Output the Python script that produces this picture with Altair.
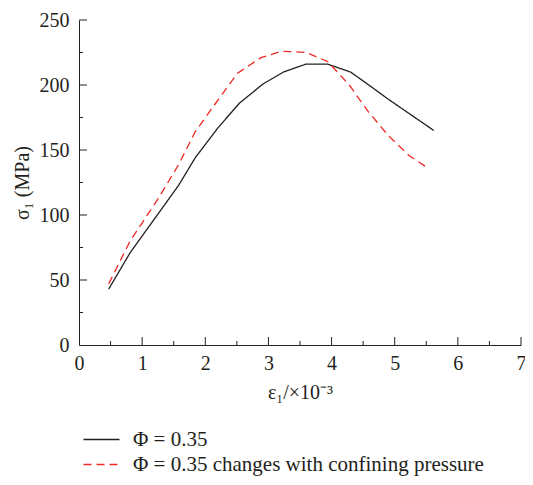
import altair as alt
import pandas as pd

# ---- data ----
series_names = ["Φ = 0.35", "Φ = 0.35 changes with confining pressure"]

x_black = [0.47, 0.81, 1.58, 1.84, 2.20, 2.54, 2.92, 3.24, 3.59, 3.94, 4.30, 4.59, 4.90, 5.62]
y_black = [43, 71, 123, 144, 167, 186, 201, 210, 216, 216, 210, 200, 189, 165]

x_red = [0.47, 0.81, 1.26, 1.58, 1.84, 2.15, 2.51, 2.88, 3.21, 3.60, 3.94, 4.28, 4.59, 4.90, 5.22, 5.53]
y_red = [47, 80, 113, 139, 164, 185, 209, 221, 226, 225, 218, 200, 179, 161, 146, 136]

x_major = [0, 1, 2, 3, 4, 5, 6, 7]
x_minor = [0.5, 1.5, 2.5, 3.5, 4.5, 5.5, 6.5]
y_major = [0, 50, 100, 150, 200, 250]
y_minor = [25, 75, 125, 175, 225]

FONT = "Liberation Serif"
INK = "#231f20"
RED = "#ee2a24"
FS = 20
W, H = 442, 325

df = pd.concat([
    pd.DataFrame({"x": x_black, "y": y_black, "series": series_names[0], "order": range(len(x_black))}),
    pd.DataFrame({"x": x_red, "y": y_red, "series": series_names[1], "order": range(len(x_red))}),
])

xs = alt.Scale(domain=[0, 7], nice=False)
ys = alt.Scale(domain=[0, 250], nice=False)
xaxis = alt.Axis(values=x_major, title="ε₁/×10⁻³", titlePadding=9, labelPadding=8, labelFlush=False)
yaxis = alt.Axis(values=y_major, title="σ₁ (MPa)", titlePadding=7, labelPadding=10, labelFlush=False)

lines = alt.Chart(df).mark_line(strokeWidth=1.3).encode(
    x=alt.X("x:Q", scale=xs, axis=xaxis),
    y=alt.Y("y:Q", scale=ys, axis=yaxis),
    color=alt.Color("series:N", scale=alt.Scale(domain=series_names, range=[INK, RED]),
                    legend=alt.Legend(title=None)),
    strokeDash=alt.StrokeDash("series:N", scale=alt.Scale(domain=series_names, range=[[1, 0], [8, 5]]),
                              legend=alt.Legend(title=None)),
    order="order:Q",
)

xmaj = alt.Chart(pd.DataFrame({"v": x_major[1:]})).mark_rule(color=INK, strokeWidth=1).encode(
    x=alt.X("v:Q", scale=xs, axis=xaxis), y=alt.value(H), y2=alt.value(H - 8))
xmin = alt.Chart(pd.DataFrame({"v": x_minor})).mark_rule(color=INK, strokeWidth=1).encode(
    x=alt.X("v:Q", scale=xs, axis=xaxis), y=alt.value(H), y2=alt.value(H - 4))
ymaj = alt.Chart(pd.DataFrame({"v": y_major[1:]})).mark_rule(color=INK, strokeWidth=1).encode(
    y=alt.Y("v:Q", scale=ys, axis=yaxis), x=alt.value(0), x2=alt.value(8))
ymin = alt.Chart(pd.DataFrame({"v": y_minor})).mark_rule(color=INK, strokeWidth=1).encode(
    y=alt.Y("v:Q", scale=ys, axis=yaxis), x=alt.value(0), x2=alt.value(4))

chart = alt.layer(lines, xmaj, xmin, ymaj, ymin).properties(
    width=W, height=H,
    autosize=alt.AutoSizeParams(type="none"),
    padding={"left": 71, "top": 12, "right": 4, "bottom": 132},
).configure_view(stroke=None).configure_axis(
    grid=False, ticks=False, domainColor=INK, domainWidth=1,
    labelFont=FONT, labelFontSize=FS, labelColor=INK,
    titleFont=FONT, titleFontSize=FS, titleFontWeight="normal", titleColor=INK,
).configure_legend(
    orient="none", legendX=12, legendY=409, direction="vertical",
    symbolType="M-2,0L2,0", symbolSize=324, symbolStrokeWidth=1.3,
    labelFont=FONT, labelFontSize=21, labelColor=INK, labelLimit=0,
    labelOffset=21, rowPadding=3,
)

chart.save("out.html", embed_options={"renderer": "svg", "actions": False})
